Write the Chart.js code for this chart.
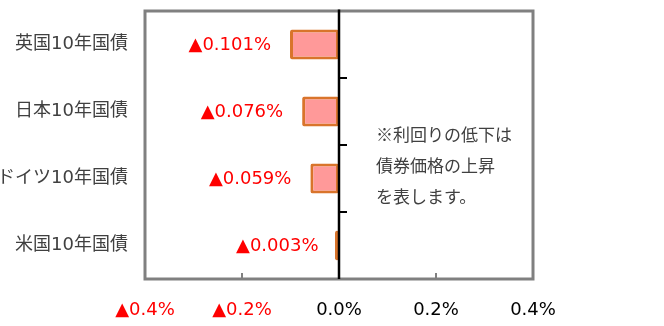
<!DOCTYPE html>
<html lang="ja">
<head>
<meta charset="utf-8">
<script src="https://cdn.jsdelivr.net/npm/chart.js@4/dist/chart.umd.min.js"></script>
<style>
  html, body { margin: 0; padding: 0; background: #fff; }
  #wrap { width: 664px; height: 326px; }
</style>
</head>
<body>
<div id="wrap"><canvas id="chart" width="664" height="326"></canvas></div>
<script>
/* ===== データ ===== */
const categories = ['英国10年国債', '日本10年国債', 'ドイツ10年国債', '米国10年国債'];
const changes = [-0.101, -0.076, -0.059, -0.003];   // 利回りの変化（%）
const xTicks = [-0.4, -0.2, 0.0, 0.2, 0.4];
const noteLines = ['※利回りの低下は', '債券価格の上昇', 'を表します。'];

const FONT = "'DejaVu Sans', 'Noto Sans CJK JP', sans-serif";
const RED = '#ff0000';
const FRAME = '#808080';

function fmtPct(v, digits) {
  const s = Math.abs(v).toFixed(digits) + '%';
  return v < 0 ? '▲' + s : s;
}

/* ===== 枠・ゼロ線・数値ラベル・注記 ===== */
const decorPlugin = {
  id: 'decor',
  afterDatasetsDraw(chart) {
    const { ctx, chartArea: a, scales: { x, y } } = chart;
    const x0 = x.getPixelForValue(0);
    const step = y.getPixelForValue(1) - y.getPixelForValue(0);
    ctx.save();

    // 外枠（グレー）
    ctx.strokeStyle = FRAME;
    ctx.lineWidth = 3;
    ctx.strokeRect(a.left, a.top, a.right - a.left, a.bottom - a.top);

    // 下辺の内向き目盛り
    ctx.lineWidth = 2;
    xTicks.forEach(v => {
      if (v === 0 || Math.abs(v) === 0.4) return;
      const px = x.getPixelForValue(v);
      ctx.beginPath();
      ctx.moveTo(px, a.bottom);
      ctx.lineTo(px, a.bottom - 6);
      ctx.stroke();
    });

    // ゼロ線とカテゴリ区切りの目盛り
    ctx.strokeStyle = '#000';
    ctx.lineWidth = 2.5;
    ctx.beginPath();
    ctx.moveTo(x0, a.top - 1.5);
    ctx.lineTo(x0, a.bottom);
    ctx.stroke();
    ctx.lineWidth = 2;
    for (let i = 1; i < categories.length; i++) {
      const py = y.getPixelForValue(i) - step / 2;
      ctx.beginPath();
      ctx.moveTo(x0, py);
      ctx.lineTo(x0 + 8, py);
      ctx.stroke();
    }

    // 数値ラベル
    ctx.font = '18px ' + FONT;
    ctx.fillStyle = RED;
    ctx.textAlign = 'right';
    ctx.textBaseline = 'middle';
    changes.forEach((v, i) => {
      const px = x.getPixelForValue(v);
      const py = y.getPixelForValue(i);
      ctx.fillText(fmtPct(v, 3), px - 19, py + 1);
    });

    // 注記
    ctx.font = "17px 'Noto Sans CJK JP', sans-serif";
    ctx.fillStyle = '#404040';
    ctx.textAlign = 'left';
    noteLines.forEach((t, i) => {
      ctx.fillText(t, x0 + 37, a.top + 124 + i * 31);
    });

    ctx.restore();
  }
};

new Chart(document.getElementById('chart'), {
  type: 'bar',
  data: {
    labels: categories,
    datasets: [{
      data: changes,
      backgroundColor: '#ff9999',
      borderColor: '#d9742b',
      borderWidth: 3,
      borderSkipped: false,
      borderRadius: 2,
      minBarLength: 4,
      barPercentage: 0.45,
      categoryPercentage: 1,
    }]
  },
  options: {
    indexAxis: 'y',
    responsive: false,
    animation: false,
    devicePixelRatio: 1,
    layout: { padding: { top: 11, right: 131, left: 0, bottom: 0 } },
    plugins: {
      legend: { display: false },
      tooltip: { enabled: false },
    },
    scales: {
      x: {
        min: -0.4,
        max: 0.4,
        afterBuildTicks(scale) {
          scale.ticks = xTicks.map(v => ({ value: v }));
        },
        afterFit(scale) { scale.height = 47; },
        grid: { display: false, drawTicks: false },
        border: { display: false },
        ticks: {
          padding: 21,
          maxRotation: 0,
          autoSkip: false,
          font: { family: FONT, size: 18 },
          color: ctx => (ctx.tick && ctx.tick.value < 0 ? RED : '#000'),
          callback: v => fmtPct(v, 1),
        }
      },
      y: {
        afterFit(scale) {
          scale.width = 145;
          scale.paddingTop = 0;
          scale.paddingBottom = 0;
        },
        grid: { display: false, drawTicks: false },
        border: { display: false },
        ticks: {
          padding: 17,
          font: { family: FONT, size: 18 },
          color: '#404040',
        }
      }
    }
  },
  plugins: [decorPlugin]
});
</script>
</body>
</html>
